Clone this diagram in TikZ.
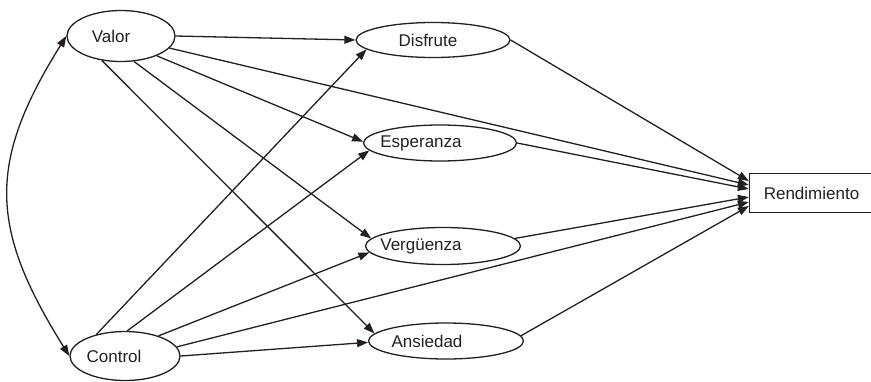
\documentclass[tikz,border=0pt]{standalone}
\usepackage{fontspec}
\setmainfont{Liberation Sans}
\usepackage{tikz}
\usetikzlibrary{arrows.meta,shapes.geometric}
\definecolor{inkgrey}{HTML}{231F20}
\newcommand{\nudgeleft}[2]{\hspace*{-#1}#2\hspace*{#1}}

\begin{document}
\begin{tikzpicture}[
  x=1pt,y=1pt,
  construct/.style={ellipse,draw=inkgrey,line width=1.3pt,inner sep=0pt,
                    font=\fontsize{17}{20}\selectfont,text=inkgrey},
  outcome/.style={rectangle,draw=inkgrey,line width=1.3pt,inner sep=0pt,
                  minimum width=124pt,minimum height=39pt,
                  font=\fontsize{17}{20}\selectfont,text=inkgrey},
  arrow/.style={-{Triangle[length=11pt,width=8pt]},draw=inkgrey,line width=1.3pt},
]
\useasboundingbox (0,0) rectangle (871,-381);

\node[construct,minimum width=108pt,minimum height=51pt] (valor)   at (121,-36)  {\nudgeleft{10pt}{Valor}};
\node[construct,minimum width=110pt,minimum height=49pt] (control) at (125,-356) {\nudgeleft{11pt}{Control}};

\node[construct,minimum width=154pt,minimum height=35pt] (disfrute)  at (433,-40)  {\nudgeleft{5pt}{Disfrute}};
\node[construct,minimum width=153pt,minimum height=36pt] (esperanza) at (440,-143) {\nudgeleft{19pt}{Esperanza}};
\node[construct,minimum width=155pt,minimum height=37pt] (verguenza) at (443,-246) {\nudgeleft{22pt}{Vergüenza}};
\node[construct,minimum width=155pt,minimum height=36pt] (ansiedad)  at (446,-341) {\nudgeleft{19pt}{Ansiedad}};

\node[outcome] (rend) at (811.5,-193) {Rendimiento};

% covariance
\draw[arrow,{Triangle[length=11pt,width=8pt]}-{Triangle[length=11pt,width=8pt]}]
  (valor.west) to[out=238,in=122,looseness=1.2] (control.west);

% valor paths
\draw[arrow] (valor.0)   -- (disfrute.180);
\draw[arrow] (valor.331) -- (esperanza.179);
\draw[arrow] (valor.297) -- (verguenza.174);
\draw[arrow] (valor.232) -- (ansiedad.174);
\draw[arrow] (valor.346) -- ([yshift=8pt]rend.west);

% control paths
\draw[arrow] (control.143) -- (disfrute.188);
\draw[arrow] (control.85)  -- (esperanza.186);
\draw[arrow] (control.31)  -- (verguenza.185);
\draw[arrow] (control.0)   -- (ansiedad.181);
\draw[arrow] (control.10)  -- ([yshift=-9pt]rend.west);

% emotions to rendimiento
\draw[arrow] (disfrute.0)  -- ([yshift=12pt]rend.west);
\draw[arrow] (esperanza.0) -- ([yshift=4pt]rend.west);
\draw[arrow] (verguenza.6) -- ([yshift=-4pt]rend.west);
\draw[arrow] (ansiedad.4)  -- ([yshift=-13pt]rend.west);
\end{tikzpicture}
\end{document}
